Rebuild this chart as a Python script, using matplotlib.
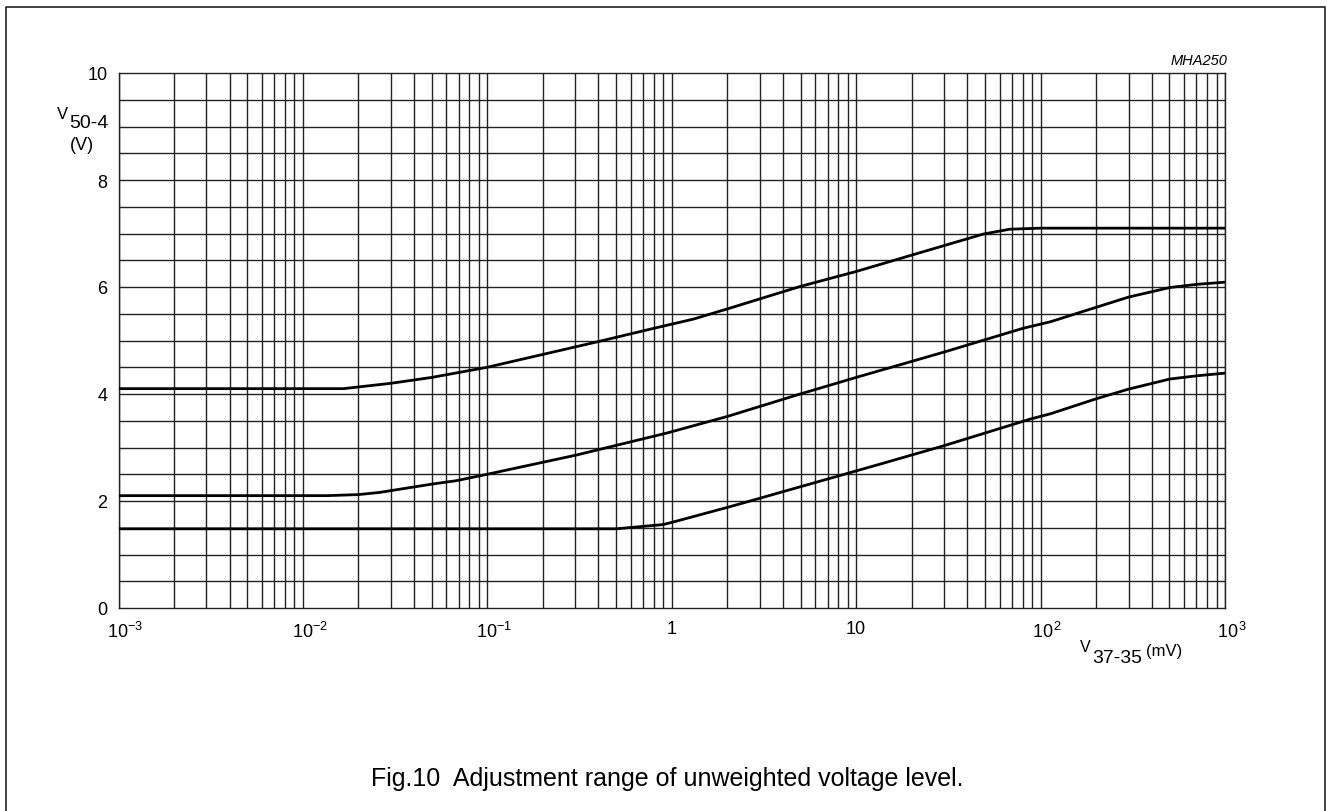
import numpy as np
import matplotlib
matplotlib.use("Agg")
import matplotlib.pyplot as plt
from matplotlib.lines import Line2D
from matplotlib.transforms import ScaledTranslation

plt.rcParams['font.family'] = ['Liberation Sans', 'DejaVu Sans']
plt.rcParams['mathtext.fontset'] = 'custom'
plt.rcParams['mathtext.rm'] = 'Liberation Sans'
plt.rcParams['mathtext.it'] = 'Liberation Sans:italic'

# curves (x in mV, y in V)
top_x = [1e-3, 0.0166, 0.03, 0.05, 0.1, 0.4, 0.76, 1.31, 2.0, 4.97, 10, 29.7, 49, 68, 100, 1000]
top_y = [4.10, 4.10, 4.20, 4.31, 4.50, 4.98, 5.21, 5.40, 5.59, 6.01, 6.29, 6.77, 6.99, 7.08, 7.10, 7.10]

mid_x = [1e-3, 0.0135, 0.02, 0.026, 0.051, 0.068, 0.1, 0.305, 0.94, 2.0, 4.97, 10, 29.7,
         80.7, 113, 200, 299, 502, 703, 1000]
mid_y = [2.10, 2.10, 2.12, 2.16, 2.32, 2.38, 2.50, 2.86, 3.27, 3.58, 4.00, 4.31, 4.78,
         5.23, 5.35, 5.62, 5.81, 5.99, 6.05, 6.09]

low_x = [1e-3, 0.5, 0.9, 1.0, 2.0, 2.66, 13.5, 29.7, 87.7, 113, 200, 299, 502, 703, 1000]
low_y = [1.48, 1.48, 1.56, 1.60, 1.88, 2.00, 2.69, 3.03, 3.53, 3.63, 3.91, 4.09, 4.28, 4.34, 4.39]

xticks = [1e-3, 1e-2, 1e-1, 1, 10, 1e2, 1e3]
xticklabels = [r'$10^{-3}$', r'$10^{-2}$', r'$10^{-1}$', '1', '10', r'$10^{\,2}$', r'$10^{\,3}$']
yticks = [0, 2, 4, 6, 8, 10]

W, H = 1327, 812


def px(x, y):
    # pixel position -> figure fraction
    return x / W, 1 - y / H


fig = plt.figure(figsize=(W / 100, H / 100), dpi=100)
ax = fig.add_axes([118.5 / W, 1 - 609 / H, (1225 - 118.5) / W, (609 - 74) / H])

ax.set_xscale('log')
ax.set_xlim(1e-3, 1e3)
ax.set_ylim(0, 10)

# grid: every 1..9 x 10^k and every 0.5 V
grid_x = [m * 10.0 ** k for k in range(-3, 3) for m in range(2, 10)]
for gx in grid_x + xticks:
    ax.axvline(gx, color='#222222', lw=1.0, zorder=1)
for gy in np.arange(0.5, 10, 0.5):
    ax.axhline(gy, color='#222222', lw=1.0, zorder=1)

for xs, ys in [(top_x, top_y), (mid_x, mid_y), (low_x, low_y)]:
    ax.plot(xs, ys, color='black', lw=2.0, zorder=3, solid_capstyle='butt')

for s in ax.spines.values():
    s.set_linewidth(1.0)
    s.set_color('#222222')

ax.set_xticks(xticks)
ax.set_xticklabels(xticklabels)
ax.xaxis.set_minor_locator(matplotlib.ticker.NullLocator())
ax.set_yticks(yticks)
ax.tick_params(axis='both', length=0, labelsize=13)
ax.tick_params(axis='x', pad=9)
ax.tick_params(axis='y', pad=8)

shift = ScaledTranslation(7 / 100, 0, fig.dpi_scale_trans)
for lbl in ax.get_xticklabels():
    if '^' in lbl.get_text():
        lbl.set_transform(lbl.get_transform() + shift)

# y axis label
fig.text(*px(57, 119), 'V', fontsize=12, va='baseline', ha='left')
fig.text(*px(69, 128), '50-4', fontsize=14, va='baseline', ha='left')
fig.text(*px(82, 150), '(V)', fontsize=13, va='baseline', ha='center')

# x axis label
fig.text(*px(1080, 652), 'V', fontsize=11.5, va='baseline', ha='left')
fig.text(*px(1092, 663), '37-35', fontsize=14, va='baseline', ha='left')
fig.text(*px(1146, 656), '(mV)', fontsize=12, va='baseline', ha='left')

fig.text(*px(1227, 65), 'MHA250', fontsize=10.5, style='italic', va='baseline', ha='right')

fig.text(*px(667, 786), 'Fig.10  Adjustment range of unweighted voltage level.',
         fontsize=18, va='baseline', ha='center')

# outer frame (open at the bottom)
fig.add_artist(Line2D([5.5 / W, 5.5 / W, 1325 / W, 1325 / W],
                      [0, 1 - 7.7 / H, 1 - 7.7 / H, 0],
                      transform=fig.transFigure, color='#222222', lw=1.2))

fig.savefig('out.png', dpi=100)
